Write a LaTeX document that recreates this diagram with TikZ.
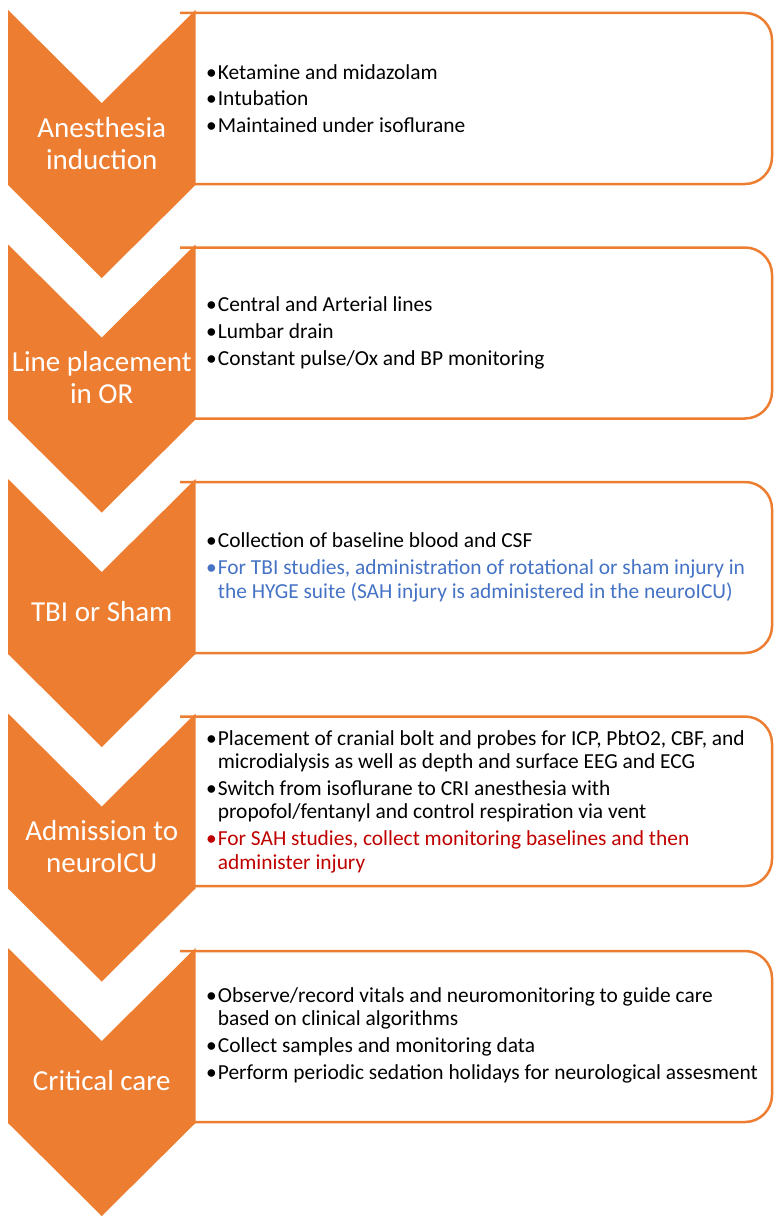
\documentclass[tikz,border=0pt]{standalone}
\usepackage{fontspec}
\setmainfont{Carlito}
\definecolor{org}{HTML}{ED7D31}
\definecolor{tblue}{HTML}{4472C4}
\definecolor{tred}{HTML}{C00000}
\newcommand\bl{\textbullet\hspace{1pt}}
\newcommand\cont{\mbox{\phantom{\textbullet}\hspace{1pt}}}
\tikzset{
  chev/.style={fill=org, draw=none},
  boxline/.style={draw=org, line width=2.5pt, rounded corners=27pt},
  clabel/.style={text=white, font=\fontsize{29}{32}\selectfont, align=center, inner sep=0pt},
  btext/.style={anchor=west, align=left, inner sep=0pt, font=\fontsize{21.4}{23.3}\selectfont},
}
\begin{document}
\begin{tikzpicture}[x=1pt,y=-1pt]
\useasboundingbox (0,0) rectangle (784,1223);
% boxes
\draw[boxline] (180,13) -- (772,13) -- (772,184) -- (180,184);
\draw[boxline] (180,247.5) -- (772,247.5) -- (772,418.5) -- (180,418.5);
\draw[boxline] (180,482) -- (772,482) -- (772,653) -- (180,653);
\draw[boxline] (180,716.5) -- (772,716.5) -- (772,886) -- (180,886);
\draw[boxline] (180,951) -- (772,951) -- (772,1122) -- (180,1122);
% chevrons
\fill[chev] (8,10) -- (101.75,103) -- (195.5,10) -- (195.5,185) -- (101.75,278) -- (8,185) -- cycle;
\fill[chev] (8,244.5) -- (101.75,337.5) -- (195.5,244.5) -- (195.5,419.5) -- (101.75,512.5) -- (8,419.5) -- cycle;
\fill[chev] (8,479) -- (101.75,572) -- (195.5,479) -- (195.5,654) -- (101.75,747) -- (8,654) -- cycle;
\fill[chev] (8,713.5) -- (101.75,806.5) -- (195.5,713.5) -- (195.5,888.5) -- (101.75,981.5) -- (8,888.5) -- cycle;
\fill[chev] (8,948) -- (101.75,1041) -- (195.5,948) -- (195.5,1123) -- (101.75,1216) -- (8,1123) -- cycle;
% chevron labels
\node[clabel] (c1) at (101.75,143.5) {Anesthesia\\induction};
\node[clabel] (c2) at (101.75,378) {Line placement\\in OR};
\node[clabel] (c3) at (101.75,612) {TBI or Sham};
\node[clabel] (c4) at (101.75,847) {Admission to\\neuroICU};
\node[clabel] (c5) at (101.75,1081) {Critical care};
% box texts
\node[btext] (t1) at (206,98.5) {\bl Ketamine and midazolam\\[3.5pt]\bl Intubation\\[3.5pt]\bl Maintained under isoflurane};
\node[btext] (t2) at (206,333) {\bl Central and Arterial lines\\[3.5pt]\bl Lumbar drain\\[3.5pt]\bl Constant pulse/Ox and BP monitoring};
\node[btext] (t3) at (206,567) {\bl Collection of baseline blood and CSF\\[4.5pt]\textcolor{tblue}{\bl For TBI studies, administration of rotational or sham injury in}\\\textcolor{tblue}{\cont the HYGE suite (SAH injury is administered in the neuroICU)}};
\node[btext] (t4) at (206,801.5) {\bl Placement of cranial bolt and probes for ICP, PbtO2, CBF, and\\\cont microdialysis as well as depth and surface EEG and ECG\\[3.7pt]\bl Switch from isoflurane to CRI anesthesia with\\\cont propofol/fentanyl and control respiration via vent\\[3.7pt]\textcolor{tred}{\bl For SAH studies, collect monitoring baselines and then}\\\textcolor{tred}{\cont administer injury}};
\node[btext] (t5) at (206,1035.5) {\bl Observe/record vitals and neuromonitoring to guide care\\\cont based on clinical algorithms\\[3.7pt]\bl Collect samples and monitoring data\\[3.7pt]\bl Perform periodic sedation holidays for neurological assesment};
\end{tikzpicture}
\end{document}
